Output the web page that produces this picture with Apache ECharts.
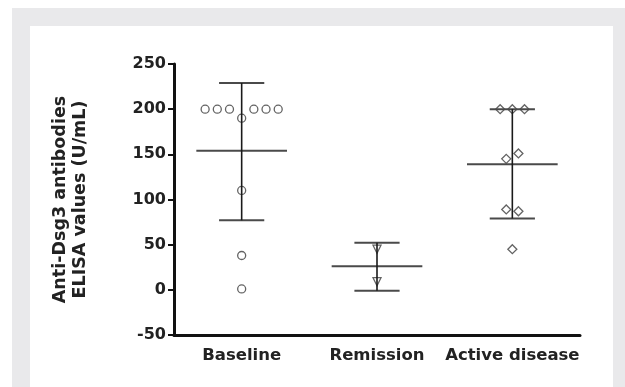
<!DOCTYPE html>
<html>
<head>
<meta charset="utf-8">
<script src="https://cdn.jsdelivr.net/npm/echarts@6/dist/echarts.min.js"></script>
<style>
    html, body { margin: 0; padding: 0; background: #fff; }
    #frame { position: absolute; left: 12px; top: 8px; width: 613px; height: 379px; background: #e9e9eb; }
    #panel { position: absolute; left: 30px; top: 26px; width: 583px; height: 361px; background: #fff; }
    #chart { position: absolute; left: 0; top: 0; width: 625px; height: 387px; }
</style>
</head>
<body>
<div id="frame"></div>
<div id="panel"></div>
<div id="chart"></div>
<script>
// groups on the x axis
var categories = ['Baseline', 'Remission', 'Active disease'];

// individual values (U/mL) and the horizontal spread of each point, in category widths
var baselineValues = [200, 200, 200, 200, 200, 200, 190, 110, 38, 1];
var baselineSpread = [-0.27, -0.18, -0.09, 0.09, 0.18, 0.27, 0, 0, 0, 0];
var remissionValues = [45, 9];
var remissionSpread = [0, 0];
var activeValues = [200, 200, 200, 145, 151, 89, 87, 45];
var activeSpread = [-0.09, 0, 0.09, -0.045, 0.045, -0.045, 0.045, 0];

// mean and SD bars: [mean, lower, upper]
var baselineStats = [154, 77, 229];
var remissionStats = [26, -1, 52];
var activeStats = [139, 79, 200];

var yTicks = { min: -50, max: 250, interval: 50 };

function points(idx, values, spread) {
    return values.map(function (v, i) { return [idx + spread[i], v]; });
}

var statsData = [baselineStats, remissionStats, activeStats].map(function (s, i) {
    return [i, s[0], s[1], s[2]];
});

var chart = echarts.init(document.getElementById('chart'));

var labelFont = 'DejaVu Sans';
var markerStyle = { color: 'rgba(255,255,255,0)', borderColor: '#3c3c3c', borderWidth: 1.3 };

var option = {
    animation: false,
    grid: { left: 174, right: 45, top: 64, bottom: 52 },
    xAxis: [{
        type: 'category',
        data: categories,
        axisLine: { onZero: false, lineStyle: { color: '#111', width: 3 } },
        axisTick: { alignWithLabel: true, length: 6, lineStyle: { color: '#111', width: 2 } },
        axisLabel: { interval: 0, color: '#222', fontFamily: labelFont, fontWeight: 'bold', fontSize: 16.5, margin: 12 }
    }, {
        // hidden value axis used to place the spread points
        type: 'value',
        min: -0.5,
        max: 2.5,
        show: false
    }],
    yAxis: {
        type: 'value',
        min: yTicks.min,
        max: yTicks.max,
        interval: yTicks.interval,
        name: 'Anti-Dsg3 antibodies\nELISA values (U/mL)',
        nameLocation: 'middle',
        nameGap: 84,
        nameTextStyle: { color: '#222', fontFamily: labelFont, fontWeight: 'bold', fontSize: 17.5, lineHeight: 20 },
        splitLine: { show: false },
        axisLine: { show: true, onZero: false, lineStyle: { color: '#111', width: 3 } },
        axisTick: { show: true, length: 6, lineStyle: { color: '#111', width: 2 } },
        axisLabel: { color: '#222', fontFamily: labelFont, fontWeight: 'bold', fontSize: 16, margin: 8 }
    },
    series: [{
        type: 'custom',
        xAxisIndex: 1,
        z: 3,
        data: statsData,
        renderItem: function (params, api) {
            var x = api.value(0);
            var unit = api.size([1, 0])[0];
            var mid = api.coord([x, api.value(1)]);
            var lo = api.coord([x, api.value(2)]);
            var hi = api.coord([x, api.value(3)]);
            var meanHalf = unit * 0.335;
            var capHalf = unit * 0.167;
            var gray = { stroke: '#4a4a4a', lineWidth: 2 };
            return {
                type: 'group',
                children: [
                    { type: 'line', shape: { x1: mid[0] - meanHalf, y1: mid[1], x2: mid[0] + meanHalf, y2: mid[1] }, style: gray },
                    { type: 'line', shape: { x1: lo[0] - capHalf, y1: lo[1], x2: lo[0] + capHalf, y2: lo[1] }, style: gray },
                    { type: 'line', shape: { x1: hi[0] - capHalf, y1: hi[1], x2: hi[0] + capHalf, y2: hi[1] }, style: gray },
                    { type: 'line', shape: { x1: lo[0], y1: lo[1], x2: hi[0], y2: hi[1] }, style: { stroke: '#1a1a1a', lineWidth: 1.6 } }
                ]
            };
        }
    }, {
        name: 'Baseline',
        type: 'scatter',
        xAxisIndex: 1,
        symbol: 'circle',
        symbolSize: 8,
        itemStyle: markerStyle,
        data: points(0, baselineValues, baselineSpread)
    }, {
        name: 'Remission',
        type: 'scatter',
        xAxisIndex: 1,
        symbol: 'triangle',
        symbolRotate: 180,
        symbolSize: 8,
        itemStyle: markerStyle,
        data: points(1, remissionValues, remissionSpread)
    }, {
        name: 'Active disease',
        type: 'scatter',
        xAxisIndex: 1,
        symbol: 'diamond',
        symbolSize: 9,
        itemStyle: markerStyle,
        data: points(2, activeValues, activeSpread)
    }]
};

chart.setOption(option);
</script>
</body>
</html>
